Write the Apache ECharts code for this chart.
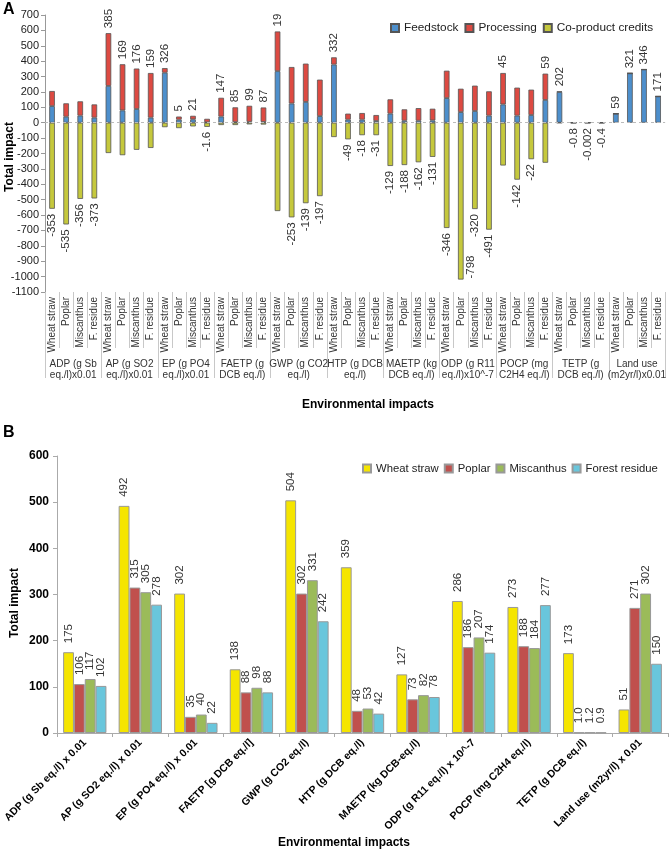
<!DOCTYPE html>
<html><head><meta charset="utf-8">
<script src="https://cdn.jsdelivr.net/npm/echarts@6/dist/echarts.min.js"></script>
<style>html,body{margin:0;padding:0;background:#fff}#c{width:669px;height:854px}</style>
</head><body><div id="c"></div>
<script>
// ---------- Panel A data ----------
const groupsA = ['ADP (g Sb\neq./l)x0.01','AP (g SO2\neq./l)x0.01','EP (g PO4\neq./l)x0.01','FAETP (g\nDCB eq./l)','GWP (g CO2\neq./l)','HTP (g DCB\neq./l)','MAETP (kg\nDCB eq./l)','ODP (g R11\neq./l)x10^-7','POCP (mg\nC2H4 eq./l)','TETP (g\nDCB eq./l)','Land use\n(m2yr/l)x0.01'];
const feedstocksA = ['Wheat straw','Poplar','Miscanthus','F. residue'];
const feedstock = [108,39,46,33, 239,80,89,33, 325,20,22,3, 40,4,6,5, 335,125,135,43, 378,20,20,11, 59,13,13,15, 160,69,76,46, 119,46,50,148, 200,0.5,0.5,0.4, 59,321,346,171];
const processing = [98,87,93,86, 343,300,263,290, 30,20,23,22.4, 122,96,104,94, 258,237,249,237, 47,39,43,39, 93,74,82,76, 178,152,165,158, 204,182,165,171, 3,0,0,0, 0,0,0,0];
const coproduct = [-559,-661,-495,-492, -197,-211,-176,-164, -29,-35,-24,-27, -15,-15,-11,-12, -574,-615,-523,-477, -93,-108,-81,-81, -281,-275,-257,-222, -684,-1019,-561,-695, -278,-370,-237,-260, -1,-1.3,-0.502,-0.8, 0,0,0,0];
const netLabels = ['-353','-535','-356','-373','385','169','176','159','326','5','21','-1.6','147','85','99','87','19','-253','-139','-197','332','-49','-18','-31','-129','-188','-162','-131','-346','-798','-320','-491','45','-142','-22','59','202','-0.8','-0.002','-0.4','59','321','346','171'];
const yTicksA = {min:-1100, max:700, interval:100};

// ---------- Panel B data ----------
const categoriesB = ['ADP (g Sb eq./l) x 0.01','AP (g SO2 eq./l) x 0.01','EP (g PO4 eq./l) x 0.01','FAETP [g DCB eq./l]','GWP (g CO2 eq./l)','HTP (g DCB eq./l)','MAETP (kg DCB-eq./l)','ODP (g R11 eq./l) x 10^-7','POCP (mg C2H4 eq./l)','TETP (g DCB eq./l)','Land use (m2yr/l) x 0.01'];
const wheatStraw = [175,492,302,138,504,359,127,286,273,173,51];
const poplar = [106,315,35,88,302,48,73,186,188,1.0,271];
const miscanthus = [117,305,40,98,331,53,82,207,184,1.2,302];
const forestResidue = [102,278,22,88,242,42,78,174,277,0.9,150];
const yTicksB = {min:0, max:600, interval:100};

const FONT = 'Liberation Sans, Arial, sans-serif';
const catsA = [];
groupsA.forEach(() => feedstocksA.forEach(f => catsA.push(f)));

const lblTop = (txt) => ({show:true, position:'top', rotate:90, align:'left', verticalAlign:'middle', distance:5, formatter:txt, color:'#333', fontSize:11.5, fontFamily:FONT});
const lblBot = (txt) => ({show:true, position:'bottom', rotate:90, align:'right', verticalAlign:'middle', distance:5, formatter:txt, color:'#333', fontSize:11.5, fontFamily:FONT});

const feedData = feedstock.map((v,i) => {
  const neg = netLabels[i].startsWith('-');
  return (!neg && !(processing[i] > 0)) ? {value:v, label:lblTop(netLabels[i])} : v;
});
const procData = processing.map((v,i) => {
  const neg = netLabels[i].startsWith('-');
  return (!neg && processing[i] > 0) ? {value:v, label:lblTop(netLabels[i])} : v;
});
const coData = coproduct.map((v,i) => {
  if (!netLabels[i].startsWith('-')) return v;
  const l = lblBot(netLabels[i]);
  if (coproduct[i] < -1000) { l.position = 'insideBottom'; l.align = 'left'; l.distance = 1; l.offset = [0, 10]; }
  return {value:v, label:l};
});

const bLabel = {show:true, position:'top', rotate:90, align:'left', verticalAlign:'middle', distance:9, color:'#333', fontSize:11.5, fontFamily:FONT,
  formatter: p => (p.value < 10 ? p.value.toFixed(1) : String(p.value))};

const chart = echarts.init(document.getElementById('c'), null, {renderer:'canvas'});
const borderA = {borderColor:'#555', borderWidth:0.8};
chart.setOption({
  animation:false,
  textStyle:{fontFamily:FONT},
  graphic:[
    {type:'text', left:3, top:2, style:{text:'A', font:'bold 16px '+FONT, fill:'#000'}},
    {type:'text', left:3, top:425, style:{text:'B', font:'bold 16px '+FONT, fill:'#000'}},
    {type:'text', x:10, y:157, rotation:Math.PI/2, style:{text:'Total impact', font:'bold 12px '+FONT, fill:'#000', align:'center', verticalAlign:'middle'}},
    {type:'text', left:302, top:399, style:{text:'Environmental impacts', font:'bold 12px '+FONT, fill:'#000'}},
    {type:'text', x:15, y:603, rotation:Math.PI/2, style:{text:'Total impact', font:'bold 12px '+FONT, fill:'#000', align:'center', verticalAlign:'middle'}},
    {type:'text', left:278, top:837, style:{text:'Environmental impacts', font:'bold 12px '+FONT, fill:'#000'}}
  ],
  legend:[
    {left:390, top:22, padding:0, width:279, itemWidth:8, itemHeight:8, itemGap:6, icon:'rect', textStyle:{fontSize:11.8, color:'#222', fontFamily:FONT},
     data:['Feedstock','Processing','Co-product credits']},
    {left:362, top:463, padding:0, width:307, itemWidth:8, itemHeight:8, itemGap:5, icon:'rect', textStyle:{fontSize:11.3, color:'#222', fontFamily:FONT},
     data:['Wheat straw','Poplar','Miscanthus','Forest residue']}
  ],
  grid:[
    {left:45, right:1, top:15, height:277},
    {left:57, right:1, top:456, height:277}
  ],
  xAxis:[
    {type:'category', gridIndex:0, data:catsA, position:'bottom', axisLine:{show:false, onZero:false},
     axisTick:{show:true, interval:0, length:56, lineStyle:{color:'#c8c8c8'}},
     axisLabel:{interval:0, rotate:90, margin:5, fontSize:10, color:'#333', fontFamily:FONT}},
    {type:'category', gridIndex:0, data:groupsA, position:'bottom', axisLine:{show:false, onZero:false},
     axisTick:{show:true, interval:0, length:86, lineStyle:{color:'#c8c8c8'}},
     axisLabel:{interval:0, margin:67, fontSize:10, lineHeight:11, color:'#333', fontFamily:FONT}},
    {type:'category', gridIndex:1, data:categoriesB, position:'bottom',
     axisLine:{show:true, lineStyle:{color:'#aaa'}},
     axisTick:{show:true, interval:0, length:4, lineStyle:{color:'#aaa'}},
     axisLabel:{interval:0, rotate:45, margin:8, fontSize:10.5, fontWeight:'bold', color:'#000', fontFamily:FONT}}
  ],
  yAxis:[
    {type:'value', gridIndex:0, min:yTicksA.min, max:yTicksA.max, interval:yTicksA.interval,
     axisLine:{show:true, lineStyle:{color:'#999'}}, axisTick:{show:true, length:4, lineStyle:{color:'#999'}},
     splitLine:{show:false}, axisLabel:{fontSize:11, color:'#222', margin:6, fontFamily:FONT, formatter: v => String(v)}},
    {type:'value', gridIndex:1, min:yTicksB.min, max:yTicksB.max, interval:yTicksB.interval,
     axisLine:{show:true, lineStyle:{color:'#aaa'}}, axisTick:{show:true, length:4, lineStyle:{color:'#aaa'}},
     splitLine:{show:false}, axisLabel:{fontSize:12, fontWeight:'bold', color:'#000', margin:8, fontFamily:FONT}}
  ],
  series:[
    {name:'Feedstock', type:'bar', xAxisIndex:0, yAxisIndex:0, stack:'a', data:feedData, barCategoryGap:'60%',
     itemStyle:Object.assign({color:'#4d8fcc'}, borderA),
     markLine:{silent:true, symbol:'none', label:{show:false}, lineStyle:{color:'#bbb', type:[3,3], width:1}, data:[{yAxis:0}]}},
    {name:'Processing', type:'bar', xAxisIndex:0, yAxisIndex:0, stack:'a', data:procData,
     itemStyle:Object.assign({color:'#dd4a42'}, borderA)},
    {name:'Co-product credits', type:'bar', xAxisIndex:0, yAxisIndex:0, stack:'a', data:coData,
     itemStyle:Object.assign({color:'#c5c83d'}, borderA)},
    {name:'Wheat straw', type:'bar', xAxisIndex:2, yAxisIndex:1, data:wheatStraw, barGap:'0%', barCategoryGap:'22%',
     itemStyle:{color:'#f5e500', borderColor:'#999', borderWidth:1}, label:bLabel},
    {name:'Poplar', type:'bar', xAxisIndex:2, yAxisIndex:1, data:poplar,
     itemStyle:{color:'#c0504d', borderColor:'#999', borderWidth:1}, label:bLabel},
    {name:'Miscanthus', type:'bar', xAxisIndex:2, yAxisIndex:1, data:miscanthus,
     itemStyle:{color:'#9bbb59', borderColor:'#999', borderWidth:1}, label:bLabel},
    {name:'Forest residue', type:'bar', xAxisIndex:2, yAxisIndex:1, data:forestResidue,
     itemStyle:{color:'#69c6dc', borderColor:'#999', borderWidth:1}, label:bLabel}
  ]
});
</script></body></html>
